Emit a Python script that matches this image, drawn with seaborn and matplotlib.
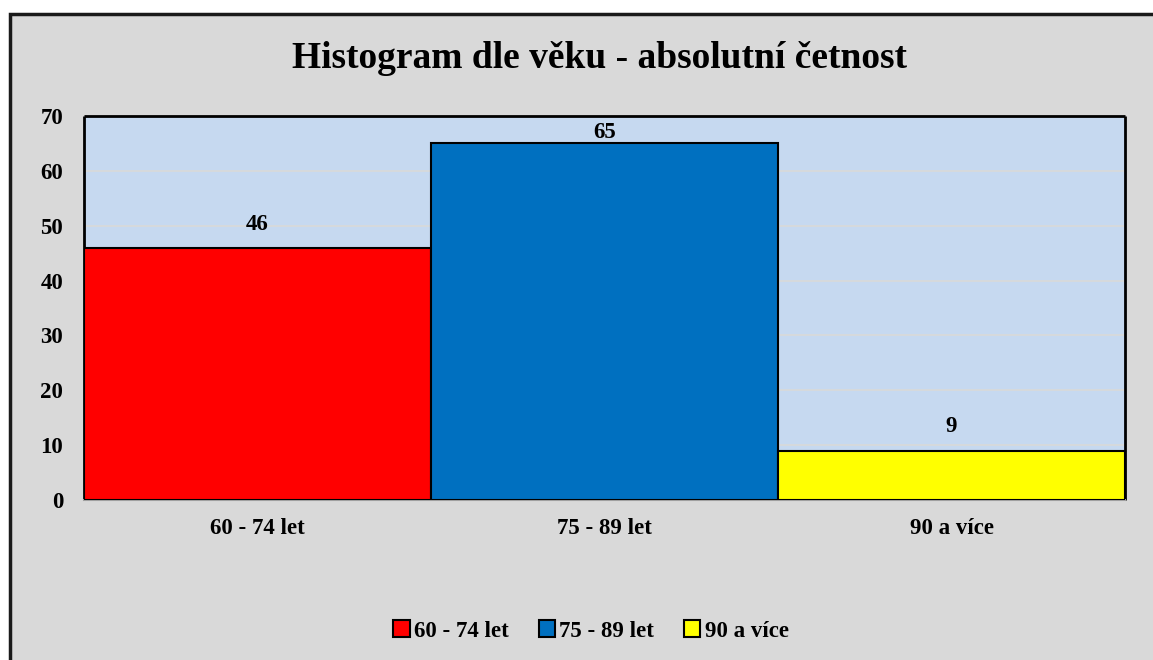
import matplotlib
matplotlib.use("Agg")
import matplotlib.pyplot as plt
import seaborn as sns
from matplotlib.patches import Rectangle, Patch

# data
categories = ["60 - 74 let", "75 - 89 let", "90 a více"]
counts = [46, 65, 9]
colors = ["#ff0000", "#0070c0", "#ffff00"]
label_pad = [9, 0, 10]

sns.set_style("white")
plt.rcParams["font.family"] = ["Liberation Serif", "DejaVu Serif"]
plt.rcParams["font.weight"] = "bold"
plt.rcParams["text.color"] = "black"
plt.rcParams["xtick.color"] = "black"
plt.rcParams["ytick.color"] = "black"

fig = plt.figure(figsize=(11.53, 6.6), dpi=100)
fig.patch.set_facecolor("white")

# grey chart area with black frame
frame = Rectangle((10 / 1153, -0.05), 1.2, 1 - 14 / 660 + 0.05,
                  transform=fig.transFigure, facecolor="#d9d9d9",
                  edgecolor="#1a1a1a", linewidth=2.5, zorder=-5)
fig.patches.append(frame)

ax = fig.add_axes([84 / 1153, 1 - 500 / 660, 1041 / 1153, 384 / 660])
ax.set_zorder(2)
ax.set_facecolor("#c6d9f0")

sns.barplot(x=categories, y=counts, hue=categories, palette=colors,
            saturation=1, width=1.0, edgecolor="black", linewidth=1.5,
            legend=False, ax=ax, zorder=3)

for cont, pad in zip(ax.containers, label_pad):
    ax.bar_label(cont, padding=pad, fontsize=16.5, fontweight="bold", color="black")

ax.set_ylim(0, 70)
ax.set_yticks(range(0, 71, 10))
ax.set_xlim(-0.5, 2.5)
ax.yaxis.grid(True, color="#d9d9d9", linewidth=1.2, zorder=0)
ax.set_axisbelow(True)
ax.tick_params(axis="y", length=0, pad=15, labelsize=16.5)
ax.tick_params(axis="x", length=0, pad=13, labelsize=16.5)
for lab in ax.get_xticklabels() + ax.get_yticklabels():
    lab.set_fontweight("bold")
ax.set_xlabel("")
ax.set_ylabel("")

for side in ["top", "left", "right"]:
    ax.spines[side].set_color("black")
    ax.spines[side].set_linewidth(2)
    ax.spines[side].set_capstyle("butt")
ax.spines["bottom"].set_color("#a0a0a0")
ax.spines["bottom"].set_linewidth(1.5)

fig.text(0.52, 1 - 58 / 660, "Histogram dle věku - absolutní četnost",
         ha="center", va="center", fontsize=27, fontweight="bold", color="black")

handles = [Patch(facecolor=c, edgecolor="black", linewidth=1.5) for c in colors]
fig.legend(handles, categories, loc="center", bbox_to_anchor=(591 / 1153, 1 - 631 / 660),
           ncol=3, frameon=False, handlelength=0.7, handleheight=0.7,
           handletextpad=0.2, columnspacing=1.3, prop={"weight": "bold", "size": 16.5})

fig.savefig("out.png", dpi=100, facecolor=fig.get_facecolor())
